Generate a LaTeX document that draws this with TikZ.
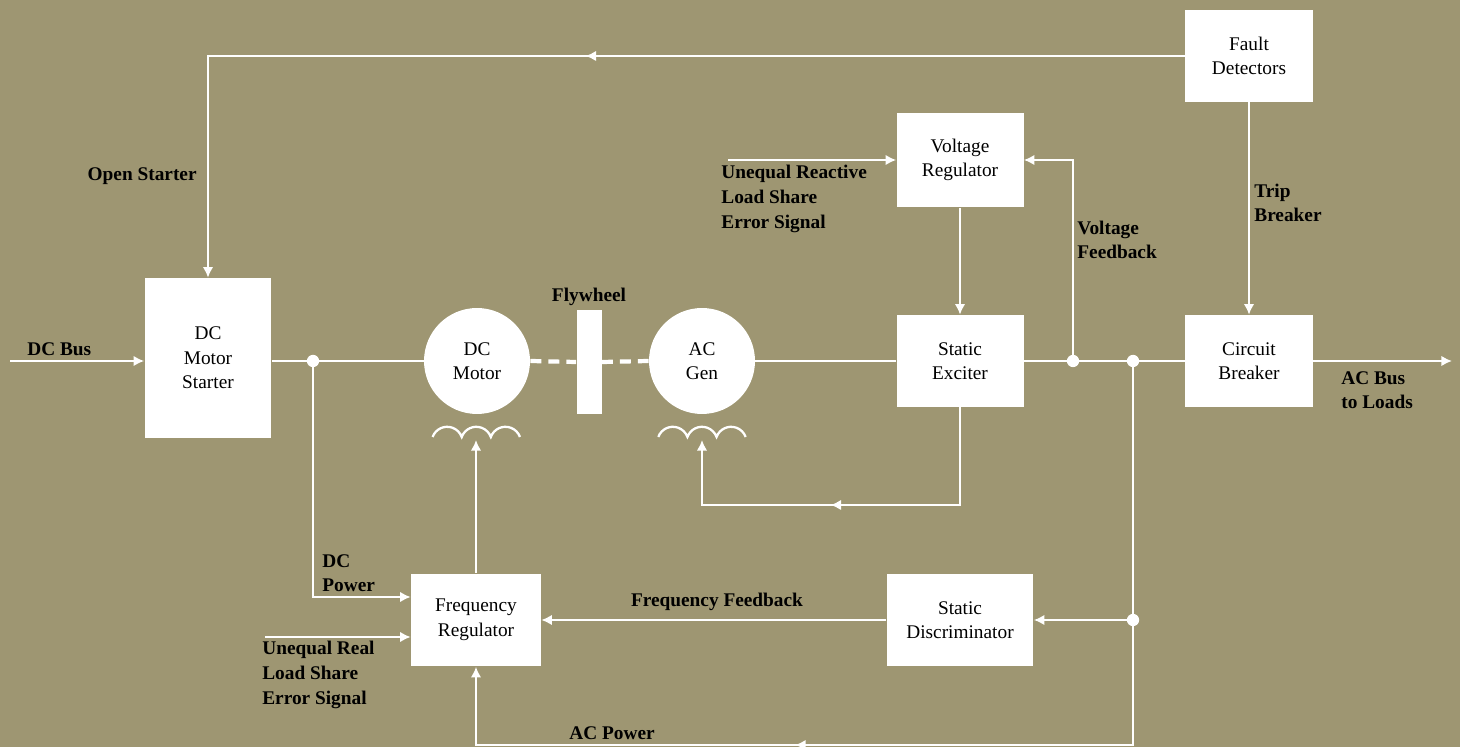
\documentclass[tikz,border=0pt]{standalone}
\usepackage{fontspec}
\setmainfont{Liberation Serif}
\usetikzlibrary{arrows.meta,decorations.markings}
\definecolor{khaki}{RGB}{158,150,114}

\begin{document}
\begin{tikzpicture}[x=0.02cm, y=-0.02cm, >={Latex[length=6pt,width=6pt]},
  wire/.style={white, line width=1.3pt},
  shaft/.style={white, line width=2.4pt, dash pattern=on 0.22cm off 0.14cm},
  blk/.style={fill=white, inner sep=0pt, align=center, font=\fontsize{11}{14}\selectfont},
  lbl/.style={inner sep=0pt, align=left, font=\bfseries\fontsize{11}{14}\selectfont},
  midarrow/.style={postaction={decorate}, decoration={markings, mark=at position #1 with {\arrow{>}}}}]

  % --- 1. 背景 ---
  \fill[khaki] (0,0) rectangle (1460,747);

  % --- 2. ブロック ---
  \node[blk, minimum width=2.54cm, minimum height=3.2cm] (starter) at (208,358) {DC\\Motor\\Starter};
  \node[blk, minimum width=2.56cm, minimum height=1.84cm] (fault) at (1249,56) {Fault\\Detectors};
  \node[blk, minimum width=2.54cm, minimum height=1.9cm] (vreg) at (960,160) {Voltage\\Regulator};
  \node[blk, minimum width=2.54cm, minimum height=1.84cm] (exciter) at (960,361) {Static\\Exciter};
  \node[blk, minimum width=2.56cm, minimum height=1.84cm] (breaker) at (1249,361) {Circuit\\Breaker};
  \node[blk, minimum width=2.6cm, minimum height=1.86cm] (freqreg) at (476,620) {Frequency\\Regulator};
  \node[blk, minimum width=2.94cm, minimum height=1.86cm] (discrim) at (960,620) {Static\\Discriminator};
  \node[blk, circle, minimum size=2.12cm] (dcmot) at (477,361) {DC\\Motor};
  \node[blk, circle, minimum size=2.12cm] (acgen) at (702,361) {AC\\Gen};
  \node[fill=white, inner sep=0pt, minimum width=0.5cm, minimum height=2.08cm] (fly) at (589,362) {};

  % --- 3. 分岐点・端点 ---
  \coordinate (j1) at (313,361);
  \coordinate (j2) at (1073,361);
  \coordinate (j3) at (1133,361);
  \coordinate (j4) at (1133,620);
  \coordinate (dcin) at (10,361);
  \coordinate (acout) at (1452,361);
  \coordinate (reactin) at (728,160);
  \coordinate (realin) at (265,637);
  \coordinate (dccoil) at (476,440);
  \coordinate (accoil) at (702,440);
  \coordinate (excret) at (960,505);
  \coordinate (acret) at (1133,745);

  % --- 4. 界磁コイル ---
  \draw[wire] (432.6,437) arc[start angle=160, end angle=20, radius=0.31cm]
    arc[start angle=160, end angle=20, radius=0.31cm]
    arc[start angle=160, end angle=20, radius=0.31cm];
  \draw[wire] (658.3,437) arc[start angle=160, end angle=20, radius=0.31cm]
    arc[start angle=160, end angle=20, radius=0.31cm]
    arc[start angle=160, end angle=20, radius=0.31cm];

  % --- 5. 主回路 ---
  \draw[wire, ->] (dcin) -- (starter.west |- dcin);
  \draw[wire] (starter.east |- j1) -- (dcmot.west);
  \draw[shaft] (dcmot.east) -- (fly.west);
  \draw[shaft] (fly.east) -- (acgen.west);
  \draw[wire] (acgen.east) -- (exciter.west);
  \draw[wire] (exciter.east) -- (breaker.west);
  \draw[wire, ->] (breaker.east) -- (acout);

  % --- 6. 制御信号 ---
  \draw[wire, ->, midarrow=0.5] (fault.west) -| (starter.north);
  \draw[wire, ->] (fault.south) -- (breaker.north);
  \draw[wire, ->] (reactin) -- (vreg.west);
  \draw[wire, ->] (j2) |- (vreg.east);
  \draw[wire, ->] (vreg.south) -- (exciter.north);
  \draw[wire, ->, midarrow=0.54] (exciter.south) -- (excret) -| (accoil);
  \draw[wire, ->] (j1) |- ([yshift=0.46cm]freqreg.west);
  \draw[wire, ->] (realin) -- (freqreg.west |- realin);
  \draw[wire, ->] (freqreg.north) -- (dccoil);
  \draw[wire, ->, midarrow=0.645] (j3) -- (acret) -| (freqreg.south);
  \draw[wire, ->] (j4) -- (discrim.east);
  \draw[wire, ->] (discrim.west) -- (freqreg.east);

  \foreach \j in {j1,j2,j3,j4}
    \fill[white] (\j) circle (3.5pt);

  % --- 7. ラベル ---
  \node[lbl, anchor=west] (lbus) at (27,349) {DC Bus};
  \node[lbl, anchor=east] (lopen) at (197,176) {Open Starter};
  \node[lbl] (lfly) at (589,297) {Flywheel};
  \node[lbl, anchor=west] (lreact) at (721,199) {Unequal Reactive\\Load Share\\Error Signal};
  \node[lbl, anchor=west] (lvfb) at (1077,240) {Voltage\\Feedback};
  \node[lbl, anchor=west] (ltrip) at (1254,203) {Trip\\Breaker};
  \node[lbl, anchor=west] (lacbus) at (1341,390) {AC Bus\\to Loads};
  \node[lbl, anchor=west] (ldcp) at (322,573) {DC\\Power};
  \node[lbl] (lffb) at (717,602) {Frequency Feedback};
  \node[lbl, anchor=west] (lreal) at (262,675) {Unequal Real\\Load Share\\Error Signal};
  \node[lbl] (lacp) at (612,733) {AC Power};

\end{tikzpicture}
\end{document}
